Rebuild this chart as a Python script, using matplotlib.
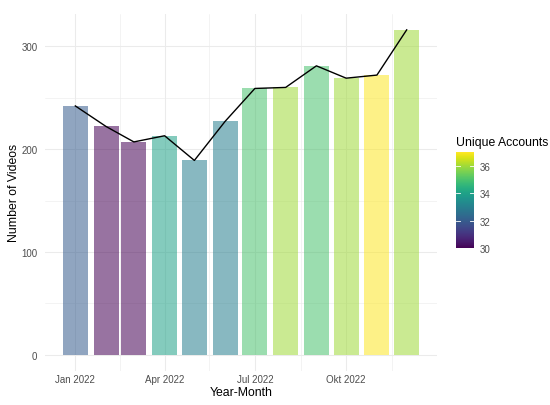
import matplotlib
matplotlib.use('Agg')
import matplotlib.pyplot as plt
import matplotlib.dates as mdates
import matplotlib.colorbar as mcolorbar
from matplotlib import colors
import numpy as np
import pandas as pd

# ---- data ----
months = pd.date_range('2022-01-01', periods=12, freq='MS')
videos = [242, 222, 207, 213, 189, 227, 259, 260, 281, 269, 272, 316]
unique_accounts = [32, 30, 30, 34, 33, 33, 35, 36, 35, 36, 37, 36]
x_tick_dates = ['2022-01-01', '2022-04-01', '2022-07-01', '2022-10-01']
x_tick_labels = ['Jan 2022', 'Apr 2022', 'Jul 2022', 'Okt 2022']
x_minor_dates = ['2022-02-15', '2022-05-16', '2022-08-16', '2022-11-16']
y_ticks = [0, 100, 200, 300]
y_minor = [50, 150, 250]
cbar_ticks = [30, 32, 34, 36]

plt.rcParams['font.family'] = ['Liberation Sans', 'DejaVu Sans']

W, H = 550, 406
fig = plt.figure(figsize=(W / 100, H / 100), dpi=100)
fig.patch.set_facecolor('white')

# panel
pl, pr, pt, pb = 45, 437, 14.6, 372
ax = fig.add_axes([pl / W, 1 - pb / H, (pr - pl) / W, (pb - pt) / H])

x = mdates.date2num(months.to_pydatetime())
bw = 0.9 * 28
cmap = plt.get_cmap('viridis')
norm = colors.Normalize(vmin=min(unique_accounts), vmax=max(unique_accounts))

ax.bar(x, videos, width=bw, color=cmap(norm(np.array(unique_accounts))),
       alpha=0.55, linewidth=0, zorder=2)
ax.plot(x, videos, color='black', lw=1.0, zorder=3)

xmin = x[0] - bw / 2
xmax = x[-1] + bw / 2
ex = 0.05 * (xmax - xmin)
ax.set_xlim(xmin - ex, xmax + ex)
ymax = max(videos)
ax.set_ylim(-0.05 * ymax, ymax * 1.05)

ax.set_xticks(mdates.date2num(pd.to_datetime(x_tick_dates).to_pydatetime()))
ax.set_xticklabels(x_tick_labels)
ax.set_xticks(mdates.date2num(pd.to_datetime(x_minor_dates).to_pydatetime()), minor=True)
ax.set_yticks(y_ticks)
ax.set_yticks(y_minor, minor=True)

ax.set_axisbelow(True)
ax.grid(which='major', color='#ebebeb', lw=0.75, zorder=0)
ax.grid(which='minor', color='#ebebeb', lw=0.4, zorder=0)
for s in ax.spines.values():
    s.set_visible(False)
ax.tick_params(which='both', length=0)
ax.tick_params(axis='x', labelsize=7.0, labelcolor='#4d4d4d', pad=2.0)
ax.tick_params(axis='y', labelsize=7.0, labelcolor='#4d4d4d', pad=5.5)

fig.text((pl + pr) / 2 / W, 1 - 393.3 / H, 'Year-Month', ha='center', va='center',
         fontsize=8.8, color='black')
fig.text(14 / W, 1 - (pt + pb) / 2 / H, 'Number of Videos', ha='center', va='center',
         rotation=90, fontsize=8.8, color='black')

# colorbar legend
cax = fig.add_axes([456 / W, 1 - 249.3 / H, 18 / W, 96 / H])
cb = mcolorbar.ColorbarBase(cax, cmap=cmap, norm=norm, orientation='vertical')
cb.outline.set_visible(False)
cb.set_ticks(cbar_ticks)
cb.set_ticklabels([str(t) for t in cbar_ticks])
cax.tick_params(length=0, labelsize=7.0, labelcolor='#4d4d4d', pad=4.3)
for v in cbar_ticks[1:]:
    cax.plot([0, 0.2], [v, v], color='white', lw=0.6, transform=cax.get_yaxis_transform())
    cax.plot([0.8, 1], [v, v], color='white', lw=0.6, transform=cax.get_yaxis_transform())
fig.text(456 / W, 1 - 143.3 / H, 'Unique Accounts', ha='left', va='center',
         fontsize=8.8, color='black')

fig.savefig('out.png', dpi=100, facecolor='white')
